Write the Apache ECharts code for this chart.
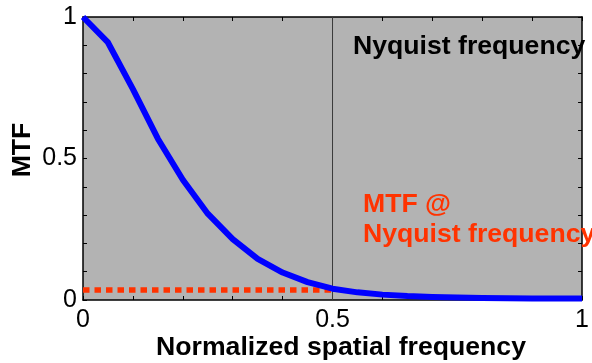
<!DOCTYPE html>
<html>
<head>
<meta charset="utf-8">
<script src="https://cdn.jsdelivr.net/npm/echarts@6/dist/echarts.min.js"></script>
<style>
  html, body { margin: 0; padding: 0; background: #fff; }
  #chart { width: 592px; height: 363px; }
</style>
</head>
<body>
<div id="chart"></div>
<script>
// MTF curve
var freq = [0, 0.05, 0.1, 0.15, 0.2, 0.25, 0.3, 0.35, 0.4, 0.45, 0.5,
            0.55, 0.6, 0.65, 0.7, 0.75, 0.8, 0.85, 0.9, 0.95, 1.0];
var mtf = [1.0, 0.91, 0.745, 0.57, 0.425, 0.305, 0.215, 0.145, 0.097, 0.063, 0.04,
           0.027, 0.019, 0.014, 0.011, 0.009, 0.007, 0.006, 0.005, 0.005, 0.005];
var nyquist = 0.5;
var mtfAtNyquist = 0.035;
var tickLabels = ['0', '0.5', '1'];

var font = '"Liberation Sans", Arial, sans-serif';
var boldFont = 'bold 25px ' + font;
var stretch = 1.065; // text in the picture is slightly wide

var curve = [];
for (var i = 0; i < freq.length; i++) {
    curve.push([freq[i], mtf[i]]);
}

function tickText(v) {
    var s = String(Math.round(v * 10) / 10);
    return tickLabels.indexOf(s) >= 0 ? s : '';
}

function label(text, x, y, color, align, rotation) {
    return {
        type: 'text',
        x: x, y: y,
        rotation: rotation || 0,
        scaleX: stretch,
        style: {
            text: text, x: 0, y: 0, fill: color, font: boldFont,
            align: align, verticalAlign: 'middle'
        },
        z: 100
    };
}

var chart = echarts.init(document.getElementById('chart'));

var axisBase = {
    type: 'value',
    min: 0,
    max: 1,
    interval: 0.1,
    splitLine: { show: false },
    axisLine: { show: true, onZero: false, lineStyle: { color: '#000', width: 1.5 } },
    axisTick: { show: true, inside: true, length: 4, lineStyle: { color: '#000', width: 1 } }
};

chart.setOption({
    animation: false,
    grid: {
        left: 83, right: 4, top: 17, bottom: 63,
        show: true, backgroundColor: '#b3b3b3', borderWidth: 0
    },
    xAxis: [
        echarts.util.merge({
            position: 'bottom',
            axisLabel: {
                formatter: tickText, fontFamily: font, fontSize: 25, color: '#000',
                margin: 8, showMinLabel: true, showMaxLabel: true
            }
        }, axisBase, true),
        echarts.util.merge({
            position: 'top',
            axisLabel: { show: false }
        }, axisBase, true)
    ],
    yAxis: [
        echarts.util.merge({
            position: 'left',
            axisLabel: {
                formatter: tickText, fontFamily: font, fontSize: 25, color: '#000',
                margin: 6, showMinLabel: true, showMaxLabel: true
            }
        }, axisBase, true),
        echarts.util.merge({
            position: 'right',
            axisLabel: { show: false }
        }, axisBase, true)
    ],
    series: [
        {
            type: 'line',
            data: [[nyquist, 0], [nyquist, 1]],
            symbol: 'none',
            lineStyle: { color: '#3a3a3a', width: 1 },
            z: 1
        },
        {
            type: 'line',
            data: [[0, mtfAtNyquist], [nyquist, mtfAtNyquist]],
            symbol: 'none',
            lineStyle: { color: '#ff3300', width: 5.5, type: [6.5, 5], cap: 'butt' },
            z: 2
        },
        {
            type: 'line',
            data: curve,
            symbol: 'none',
            lineStyle: { color: '#0000ff', width: 6, join: 'round' },
            z: 3
        }
    ],
    graphic: [
        label('MTF', 23, 150, '#000', 'center', Math.PI / 2),
        label('Nyquist frequency', 353, 47, '#000', 'left'),
        label('MTF @', 363, 205, '#ff3300', 'left'),
        label('Nyquist frequency', 363, 235, '#ff3300', 'left'),
        label('Normalized spatial frequency', 341, 348, '#000', 'center')
    ]
});
</script>
</body>
</html>
